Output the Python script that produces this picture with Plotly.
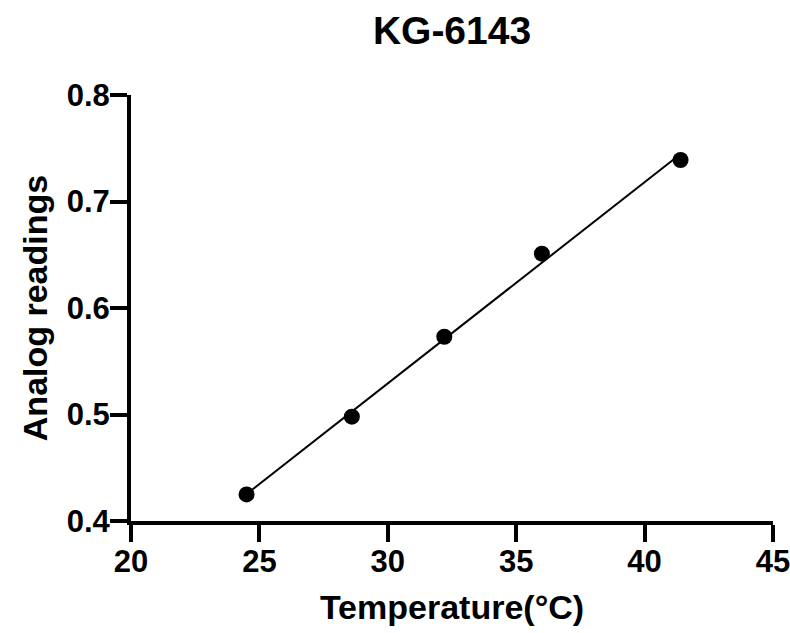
import numpy as np
import plotly.graph_objects as go

temperature = [24.5, 28.6, 32.2, 36.0, 41.4]
analog = [0.425, 0.498, 0.573, 0.651, 0.739]

x_ticks = [20, 25, 30, 35, 40, 45]
y_ticks = [0.4, 0.5, 0.6, 0.7, 0.8]
y_tick_labels = ["0.4", "0.5", "0.6", "0.7", "0.8"]

slope, intercept = np.polyfit(temperature, analog, 1)
fit_x = [min(temperature), max(temperature)]
fit_y = [slope * v + intercept for v in fit_x]

FONT = "Liberation Sans, Arial, sans-serif"

fig = go.Figure()
fig.add_trace(go.Scatter(x=fit_x, y=fit_y, mode="lines",
                         line=dict(color="black", width=2), showlegend=False))
fig.add_trace(go.Scatter(x=temperature, y=analog, mode="markers",
                         marker=dict(color="black", size=16), showlegend=False))

fig.update_layout(
    width=790, height=633,
    margin=dict(l=131, r=17, t=95, b=112),
    paper_bgcolor="white", plot_bgcolor="white",
    title=dict(text="KG-6143", x=0.5, xref="paper", y=1 - 30 / 633, yref="container",
               yanchor="middle", xanchor="center",
               font=dict(family=FONT, size=39, color="black", weight="bold")),
    font=dict(family=FONT, color="black"),
)
fig.update_xaxes(range=[20, 45], tickvals=x_ticks, ticks="outside", ticklen=17, tickwidth=4,
                 tickcolor="black", showline=True, linewidth=4, linecolor="black",
                 showgrid=False, zeroline=False, automargin=False, ticklabelstandoff=-7,
                 ticklabeloverflow="allow",
                 tickfont=dict(family=FONT, size=31, color="black", weight="bold"),
                 title=dict(text="Temperature(°C)", standoff=18,
                            font=dict(family=FONT, size=34, color="black", weight="bold")))
fig.update_yaxes(range=[0.4, 0.8], tickvals=y_ticks, ticktext=y_tick_labels, ticks="outside",
                 ticklen=17, tickwidth=4, tickcolor="black", showline=True, linewidth=4,
                 linecolor="black", showgrid=False, zeroline=False, automargin=False,
                 ticklabelstandoff=-6, ticklabeloverflow="allow",
                 tickfont=dict(family=FONT, size=31, color="black", weight="bold"),
                 title=dict(text="Analog readings", standoff=10,
                            font=dict(family=FONT, size=34, color="black", weight="bold")))

fig.write_html("out.html", config={"displayModeBar": False},
               post_script="document.body.style.margin='0';")
